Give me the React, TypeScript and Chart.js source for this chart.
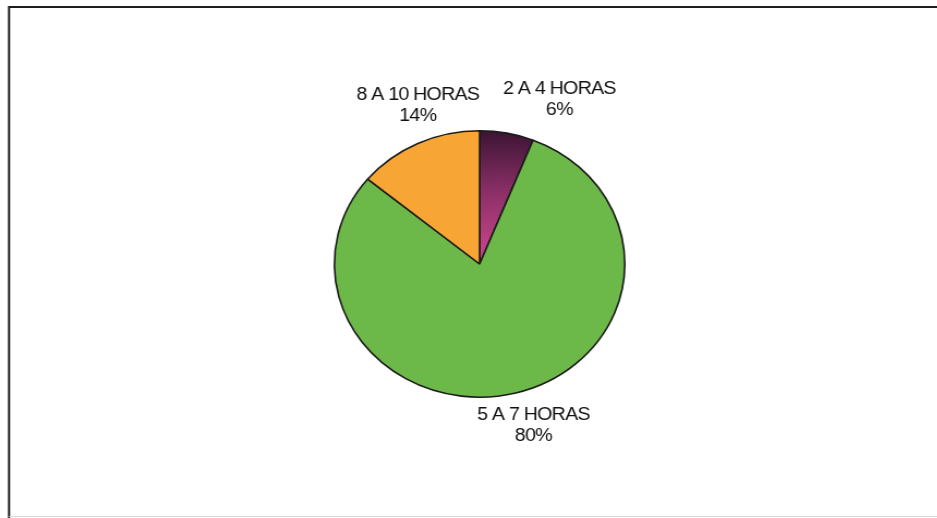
import React, { useEffect, useRef } from "react";
import { Chart, registerables } from "chart.js";

Chart.register(...registerables);

const categories = ["2 A 4 HORAS", "5 A 7 HORAS", "8 A 10 HORAS"];
const values = [6, 80, 14];
const percentLabels = ["6%", "80%", "14%"];

const sliceColors = ["#b8407c", "#6cb848", "#f7a534"];
// label layout nudges (px) relative to a point just outside each slice
const labelNudges = [
  { dx: 42, dy: -3 },
  { dx: 8, dy: -1 },
  { dx: 14, dy: -10 },
];

// the reference is horizontally stretched (pie is slightly elliptical)
const STRETCH_X = 1.09;
const CANVAS_W = 860;
const CANVAS_H = 518;

const framePlugin = {
  id: "frame",
  beforeDraw(chart: any) {
    const ctx = chart.ctx;
    ctx.save();
    ctx.fillStyle = "#ffffff";
    ctx.fillRect(0, 0, chart.width, chart.height);
    ctx.strokeStyle = "#1e1e1e";
    ctx.lineWidth = 2;
    ctx.beginPath();
    ctx.moveTo(8.3, chart.height);
    ctx.lineTo(8.3, 7);
    ctx.lineTo(chart.width, 7);
    ctx.stroke();
    ctx.strokeStyle = "#d8d8d8";
    ctx.lineWidth = 1;
    ctx.beginPath();
    ctx.moveTo(8.3, 516.5);
    ctx.lineTo(chart.width, 516.5);
    ctx.stroke();
    ctx.restore();
  },
};

const labelPlugin = {
  id: "sliceLabels",
  afterDatasetsDraw(chart: any) {
    const ctx = chart.ctx;
    const meta = chart.getDatasetMeta(0);
    ctx.save();
    ctx.fillStyle = "#111111";
    ctx.font = "18px 'Liberation Sans', Arial, sans-serif";
    (ctx as any).letterSpacing = "-0.7px";
    ctx.textAlign = "center";
    ctx.textBaseline = "alphabetic";
    meta.data.forEach((arc: any, i: number) => {
      const p = arc.getProps(["x", "y", "startAngle", "endAngle", "outerRadius"], true);
      const mid = (p.startAngle + p.endAngle) / 2;
      const r = p.outerRadius + 33;
      const cx = p.x + Math.cos(mid) * r + labelNudges[i].dx;
      const cy = p.y + Math.sin(mid) * r + labelNudges[i].dy;
      ctx.fillText(categories[i], cx, cy - 4);
      ctx.fillText(percentLabels[i], cx, cy + 17);
    });
    ctx.restore();
  },
};

export default function App() {
  const ref = useRef<HTMLCanvasElement | null>(null);
  useEffect(() => {
    if (!ref.current) return;
    const chart = new Chart(ref.current, {
      type: "pie",
      data: {
        labels: categories,
        datasets: [
          {
            data: values,
            backgroundColor: (c: any) => {
              const i = c.dataIndex;
              const area = c.chart.chartArea;
              if (i === 0 && area) {
                const g = c.chart.ctx.createLinearGradient(0, area.top, 0, area.top + area.height / 2);
                g.addColorStop(0, "#3a1432");
                g.addColorStop(0.45, "#8a2f66");
                g.addColorStop(1, "#d0488e");
                return g;
              }
              return sliceColors[i];
            },
            borderColor: "#1c1c1c",
            borderWidth: 1.6,
          },
        ],
      },
      options: {
        responsive: false,
        animation: false,
        devicePixelRatio: 1,
        layout: { padding: { left: 306, right: 286, top: 130, bottom: 120 } },
        plugins: {
          legend: { display: false },
          tooltip: { enabled: false },
        },
      } as any,
      plugins: [framePlugin, labelPlugin],
    });
    return () => chart.destroy();
  }, []);
  return (
    <div style={{ position: "absolute", left: 0, top: 0, width: 937, height: 518, overflow: "hidden" }}>
      <canvas
        ref={ref}
        width={CANVAS_W}
        height={CANVAS_H}
        style={{ transform: `scaleX(${STRETCH_X})`, transformOrigin: "0 0" }}
      />
    </div>
  );
}
